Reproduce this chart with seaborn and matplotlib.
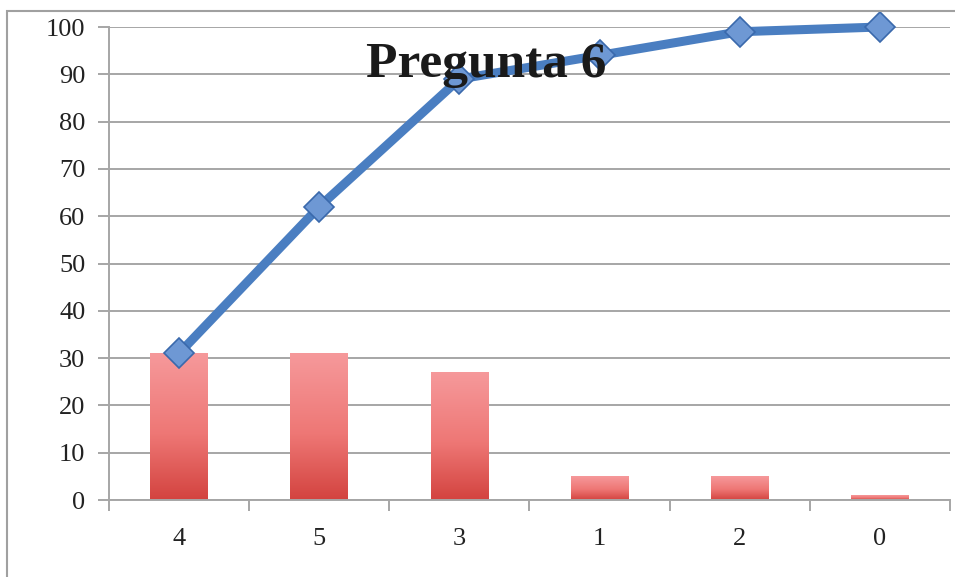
import numpy as np
import pandas as pd
import matplotlib
matplotlib.use("Agg")
import matplotlib.pyplot as plt
from matplotlib.colors import LinearSegmentedColormap
from matplotlib.patches import Rectangle
import seaborn as sns

# Response options (ordered by frequency) and their percentages
categories = ["4", "5", "3", "1", "2", "0"]
percent = [31, 31, 27, 5, 5, 1]
cumulative = [31, 62, 89, 94, 99, 100]
y_ticks = [0, 10, 20, 30, 40, 50, 60, 70, 80, 90, 100]
title = "Pregunta 6"

sns.set_theme(style="white")
plt.rcParams["font.family"] = ["Liberation Serif", "DejaVu Serif"]

df = pd.DataFrame({"opcion": categories, "pct": percent, "acum": cumulative})

fig = plt.figure(figsize=(9.55, 5.77), dpi=100)
ax = fig.add_axes([0.1141, 0.1334, 0.8807, 0.8198])

# outer chart frame
fig.patches.append(Rectangle((0.0073, -0.05), 1.1, 0.05 + 0.981, transform=fig.transFigure,
                             fill=False, edgecolor="#A0A0A0", linewidth=1.5, zorder=0))

sns.barplot(data=df, x="opcion", y="pct", order=categories, width=0.41,
            color="#F08080", saturation=1, ax=ax, zorder=2)

# vertical red gradient inside each bar
grad_cmap = LinearSegmentedColormap.from_list(
    "barfill", [(0.0, "#D3433F"), (0.45, "#EE7775"), (1.0, "#F6999B")])
grad = np.linspace(0, 1, 256).reshape(-1, 1)
for p in list(ax.patches):
    x0, y0 = p.get_x(), p.get_y()
    w, h = p.get_width(), p.get_height()
    if h <= 0:
        continue
    im = ax.imshow(grad, cmap=grad_cmap, origin="lower", aspect="auto",
                   extent=(x0, x0 + w, y0, y0 + h), zorder=2.5)
    im.set_clip_path(p)
    p.set_edgecolor("none")

sns.pointplot(data=df, x="opcion", y="acum", order=categories, color="#4A7EC1",
              markers="D", linestyles="-", ax=ax, linewidth=6.5,
              markersize=15, markerfacecolor="#6E98D4", markeredgecolor="#3A69AC",
              markeredgewidth=1.2, zorder=5)
for ln in ax.lines:
    ln.set_zorder(5)
    ln.set_clip_on(False)

ax.set_xlim(-0.5, len(categories) - 0.5)
ax.set_ylim(0, 100)
ax.set_yticks(y_ticks)
ax.set_yticklabels([str(t) for t in y_ticks])
ax.set_xlabel("")
ax.set_ylabel("")

ax.grid(axis="y", color="#A6A6A6", linewidth=1.4, zorder=0)
ax.set_axisbelow(True)
for s in ["top", "right"]:
    ax.spines[s].set_visible(False)
for s in ["left", "bottom"]:
    ax.spines[s].set_color("#A6A6A6")
    ax.spines[s].set_linewidth(1.4)

# category ticks on the boundaries between bars
ax.set_xticks(np.arange(len(categories)))
ax.set_xticklabels(categories)
ax.set_xticks(np.arange(-0.5, len(categories)), minor=True)
ax.tick_params(axis="x", which="major", length=0, pad=20, labelsize=19, colors="#222222")
ax.tick_params(axis="x", which="minor", bottom=True, length=8, width=1.4, color="#A6A6A6")
ax.tick_params(axis="y", left=True, length=8, width=1.4, color="#A6A6A6",
               pad=9, labelsize=19, labelcolor="#222222")

ax.text(0.449, 0.92, title, transform=ax.transAxes, ha="center", va="center",
        fontsize=37, fontweight="bold", color="#1A1A1A", zorder=10)

fig.savefig("out.png", dpi=100, facecolor="white")
